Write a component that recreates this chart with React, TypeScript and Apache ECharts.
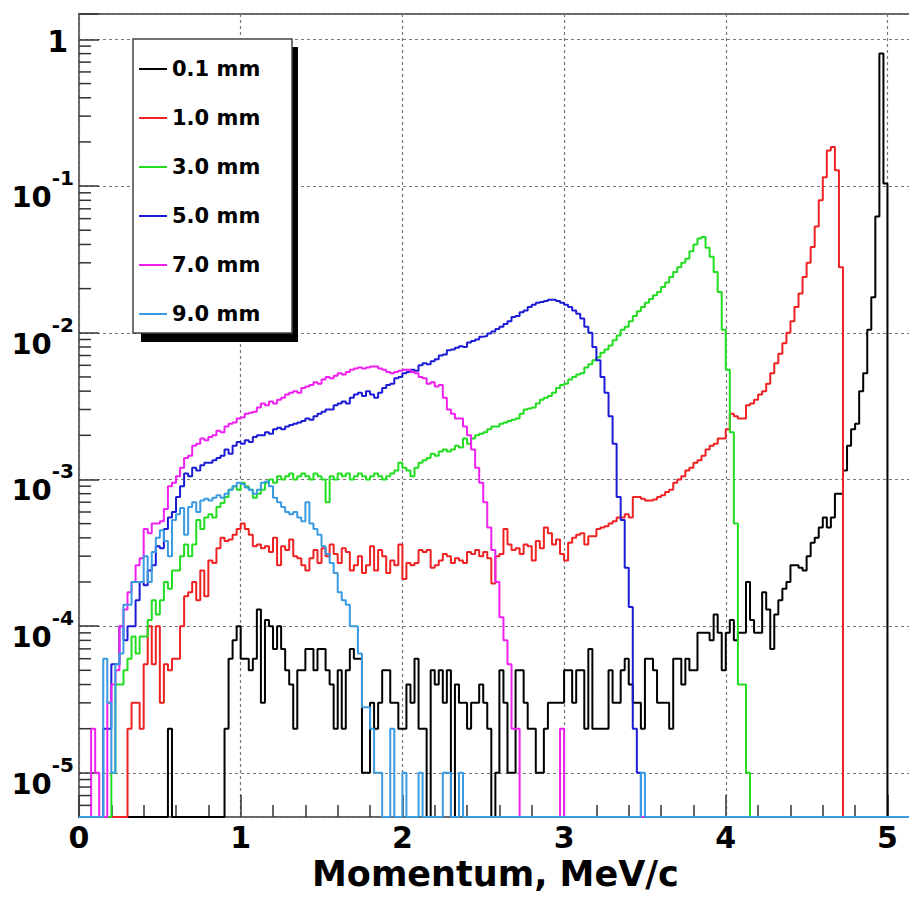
import React, { useEffect, useRef } from "react";
import * as echarts from "echarts";

// ---------- data (bin width 0.025 MeV/c) ----------
const BIN_WIDTH = 0.025;
const N_BINS = 208; // 0 .. 5.2
const X_MIN = 0;
const X_MAX = 5.2;
const Y_MIN = 5e-6;
const Y_MAX = 1.49;
const X_TICK_LABELS = [0, 1, 2, 3, 4, 5];
const Y_TICK_EXPONENTS = [-5, -4, -3, -2, -1, 0];
const Y_MINOR_MULTIPLIERS = [2, 3, 4, 5, 6, 7, 8, 9];

const SERIES_NAMES = ["0.1 mm", "1.0 mm", "3.0 mm", "5.0 mm", "7.0 mm", "9.0 mm"];
const SERIES_COLORS = ["#000000", "#ee2222", "#22dd22", "#1c1cd6", "#f020f0", "#3a9be2"];

const START_01 = 22;
const VALUES_01 = [
  2e-5, 0, 0, 0, 0, 0, 0, 0, 0, 0, 0, 0, 0, 0,
  2e-5, 6e-5, 8e-5, 1e-4, 6e-5, 6e-5, 5e-5, 6e-5, 1.3e-4, 3e-5, 1.1e-4, 1e-4, 7e-5, 1e-4, 7e-5, 5e-5,
  4e-5, 2e-5, 5e-5, 5e-5, 7e-5, 7e-5, 5e-5, 7e-5, 7e-5, 5e-5, 4e-5, 2e-5, 5e-5, 2e-5, 5e-5, 7e-5,
  6e-5, 6e-5, 1e-5, 1e-5, 3e-5, 2e-5, 3e-5, 5e-5, 5e-5, 3e-5, 3e-5, 2e-5,
  2e-5, 4e-5, 3e-5, 6e-5, 2e-5, 2e-5, 0, 5e-5, 4e-5, 5e-5, 3e-5, 5e-5, 0, 4e-5, 3e-5, 3e-5,
  2e-5, 3e-5, 3e-5, 4e-5, 3e-5, 2e-5, 0, 1e-5, 5e-5, 3e-5, 1e-5, 1e-5, 5e-5, 5e-5, 3e-5, 2e-5,
  2e-5, 1e-5, 1e-5, 2e-5, 3e-5, 3e-5, 3e-5, 3e-5, 5e-5, 5e-5, 3e-5, 5e-5, 5e-5, 2e-5, 7e-5, 2e-5,
  2e-5, 2e-5, 2e-5, 5e-5, 3e-5, 3e-5, 5e-5, 6e-5, 4e-5, 3e-5, 3e-5, 2e-5, 6e-5, 6e-5, 5e-5, 3e-5,
  3e-5, 3e-5, 2e-5, 6e-5, 6e-5, 4e-5, 6e-5, 5e-5, 5e-5, 9e-5, 9e-5, 9e-5, 8e-5, 1.2e-4, 9e-5, 5e-5,
  9e-5, 1.1e-4, 8e-5, 9e-5, 9e-5, 2e-4, 1.1e-4, 9e-5, 9e-5, 1.7e-4, 1.3e-4, 7e-5, 1.2e-4, 1.5e-4,
  1.8e-4, 2e-4, 2.6e-4, 2.6e-4, 2.5e-4, 2.4e-4, 3e-4, 3.7e-4, 4e-4, 4.7e-4, 5.5e-4, 4.7e-4, 5.5e-4,
  8e-4, 8e-4, 1.15e-3, 1.7e-3, 2.2e-3, 2.4e-3, 4e-3, 5.3e-3, 1.05e-2, 1.75e-2, 6.2e-2, 0.8, 0.104,
];

const START_10 = 12;
const VALUES_10 = [
  2e-5, 3e-5, 3e-5, 2e-5, 5.5e-5, 1e-4, 5.5e-5, 1e-4, 3e-5, 5.5e-5, 5e-5, 6e-5, 6e-5, 1e-4,
  1.6e-4, 1.7e-4, 2e-4, 1.5e-4, 2.4e-4, 1.6e-4, 2.8e-4, 2.7e-4, 3.4e-4, 4e-4, 3.8e-4, 3.9e-4,
  4.2e-4, 4.6e-4, 5e-4, 4.6e-4, 4.2e-4, 3.5e-4, 3.6e-4, 3.4e-4, 3.5e-4, 3.2e-4, 4e-4, 2.6e-4,
  3.5e-4, 3.3e-4, 3.9e-4, 3e-4, 2.9e-4, 2.6e-4, 2.4e-4, 2.9e-4, 3.3e-4, 2.7e-4, 3.4e-4, 3e-4,
  3.6e-4, 3.1e-4, 2.7e-4, 3.4e-4, 3.2e-4, 2.4e-4, 2.6e-4, 3e-4, 2.3e-4, 2.6e-4, 3.5e-4, 2.4e-4,
  3.3e-4, 3e-4, 2.3e-4, 2.8e-4, 2.6e-4, 3.6e-4, 2.1e-4, 2.7e-4, 2.6e-4, 2.7e-4, 3.3e-4, 3.2e-4,
  3.3e-4, 2.5e-4, 2.6e-4, 2.8e-4, 3.1e-4, 3e-4, 2.7e-4, 2.9e-4, 2.8e-4, 2.7e-4, 3.2e-4, 3.1e-4,
  3.3e-4, 3e-4, 3.2e-4, 2.9e-4, 1.95e-4, 3e-4, 3.1e-4, 4.6e-4, 3.6e-4, 3.3e-4, 3.4e-4, 3.1e-4,
  3.6e-4, 3.5e-4, 2.8e-4, 3.8e-4, 3.4e-4, 4.7e-4, 4.3e-4, 3.6e-4, 3.9e-4, 3.1e-4, 2.8e-4, 3.7e-4,
  4e-4, 4.2e-4, 4.3e-4, 3.6e-4, 4.1e-4, 4.1e-4, 4.6e-4, 4.7e-4, 4.8e-4, 5e-4, 5.2e-4, 5.5e-4,
  5.5e-4, 5.8e-4, 5.5e-4, 7.6e-4, 7.6e-4, 7.4e-4, 7.2e-4, 7.2e-4, 7.3e-4, 7.6e-4, 7.8e-4, 8.2e-4,
  8.5e-4, 9.5e-4, 1e-3, 1.05e-3, 1.15e-3, 1.2e-3, 1.3e-3, 1.35e-3, 1.45e-3, 1.6e-3, 1.7e-3,
  1.75e-3, 1.9e-3, 1.9e-3, 2.2e-3, 2.8e-3, 2.7e-3, 2.6e-3, 2.6e-3, 3.2e-3, 3.3e-3, 3.5e-3, 3.8e-3,
  4e-3, 4.5e-3, 5.3e-3, 6.2e-3, 7.2e-3, 8.5e-3, 1e-2, 1.2e-2, 1.5e-2, 1.85e-2, 2.4e-2, 3e-2,
  3.85e-2, 5.3e-2, 8e-2, 0.115, 0.175, 0.185, 0.128, 2.8e-2,
];

const START_30 = 8;
const VALUES_30 = [
  1e-5, 4e-5, 4e-5, 5e-5, 6e-5, 8.5e-5, 6.5e-5, 8.5e-5, 8.5e-5, 1.1e-4, 1.5e-4, 1.2e-4, 1.5e-4,
  2e-4, 1.8e-4, 2.4e-4, 2.4e-4, 3e-4, 3.6e-4, 3e-4, 3.6e-4, 5.3e-4, 4.6e-4, 5.5e-4, 5.8e-4,
  5.5e-4, 6.5e-4, 6.9e-4, 7.6e-4, 8.5e-4, 9e-4, 8.5e-4, 9.5e-4, 9e-4, 8.5e-4, 7.5e-4, 8e-4,
  8.5e-4, 9.5e-4, 1e-3, 9.5e-4, 1.05e-3, 1e-3, 1.05e-3, 1.1e-3, 1e-3, 1.05e-3, 1.1e-3, 1.05e-3,
  1e-3, 1.1e-3, 1.05e-3, 1e-3, 7e-4, 1.05e-3, 1e-3, 1.1e-3, 1.05e-3, 1.1e-3, 1e-3, 1.05e-3,
  1.1e-3, 1.05e-3, 1e-3, 1.05e-3, 1.1e-3, 1.05e-3, 1e-3, 1.05e-3, 1.1e-3, 1.15e-3, 1.3e-3, 1.2e-3,
  1.15e-3, 1.05e-3, 1.2e-3, 1.3e-3, 1.35e-3, 1.4e-3, 1.5e-3, 1.45e-3, 1.55e-3, 1.6e-3, 1.55e-3,
  1.6e-3, 1.7e-3, 1.65e-3, 1.9e-3, 1.75e-3, 1.9e-3, 2e-3, 2.05e-3, 2.1e-3, 2.2e-3, 2.3e-3, 2.3e-3,
  2.4e-3, 2.45e-3, 2.5e-3, 2.55e-3, 2.6e-3, 2.8e-3, 3e-3, 3.05e-3, 3.1e-3, 3.3e-3, 3.5e-3, 3.6e-3,
  3.7e-3, 3.9e-3, 4.2e-3, 4.4e-3, 4.5e-3, 4.8e-3, 5e-3, 5.2e-3, 5.3e-3, 5.8e-3, 6.1e-3, 6.5e-3,
  6.8e-3, 7.3e-3, 7.7e-3, 8.2e-3, 8.9e-3, 9.6e-3, 1.05e-2, 1.1e-2, 1.2e-2, 1.3e-2, 1.4e-2, 1.5e-2,
  1.6e-2, 1.7e-2, 1.8e-2, 1.9e-2, 2.05e-2, 2.2e-2, 2.4e-2, 2.6e-2, 2.8e-2, 3e-2, 3.2e-2, 3.6e-2,
  4e-2, 4.4e-2, 4.5e-2, 3.8e-2, 3.3e-2, 2.6e-2, 1.9e-2, 1.05e-2, 5.6e-3, 2.1e-3, 5e-4, 4e-5, 4e-5,
  1e-5,
];

const START_50 = 6;
const VALUES_50 = [
  2e-5, 2e-5, 5.5e-5, 5.5e-5, 1e-4, 8e-5, 1e-4, 1e-4, 1.5e-4, 2e-4, 1.9e-4, 2.4e-4, 2.6e-4,
  3.5e-4, 3.4e-4, 4.6e-4, 5.5e-4, 6e-4, 7.6e-4, 9e-4, 1.1e-3, 1.05e-3, 1.2e-3, 1.15e-3, 1.25e-3,
  1.3e-3, 1.3e-3, 1.35e-3, 1.4e-3, 1.45e-3, 1.6e-3, 1.5e-3, 1.7e-3, 1.8e-3, 1.75e-3, 1.85e-3,
  1.8e-3, 1.95e-3, 2e-3, 2e-3, 2.1e-3, 2.05e-3, 2.2e-3, 2.25e-3, 2.2e-3, 2.3e-3, 2.35e-3, 2.4e-3,
  2.45e-3, 2.5e-3, 2.6e-3, 2.55e-3, 2.7e-3, 2.8e-3, 2.9e-3, 3e-3, 3e-3, 3.2e-3, 3.3e-3, 3.4e-3,
  3.3e-3, 3.6e-3, 3.8e-3, 3.9e-3, 3.7e-3, 4e-3, 3.8e-3, 3.6e-3, 3.9e-3, 4.2e-3, 4.4e-3, 4.5e-3,
  4.9e-3, 5e-3, 5.3e-3, 5.4e-3, 5.6e-3, 5.5e-3, 6e-3, 6.2e-3, 6.1e-3, 6.4e-3, 6.6e-3, 7e-3, 7.1e-3,
  7.6e-3, 7.7e-3, 7.9e-3, 8.1e-3, 8e-3, 8.6e-3, 8.8e-3, 9e-3, 9.4e-3, 9.5e-3, 9.9e-3, 1.02e-2,
  1.06e-2, 1.1e-2, 1.15e-2, 1.2e-2, 1.28e-2, 1.3e-2, 1.38e-2, 1.42e-2, 1.5e-2, 1.55e-2, 1.6e-2,
  1.62e-2, 1.65e-2, 1.68e-2, 1.68e-2, 1.65e-2, 1.6e-2, 1.55e-2, 1.5e-2, 1.42e-2, 1.35e-2, 1.25e-2,
  1.1e-2, 1e-2, 8e-3, 6.5e-3, 5e-3, 3.9e-3, 2.7e-3, 1.75e-3, 7.6e-4, 5.3e-4, 2.5e-4, 1.35e-4,
  2e-5, 1e-5,
];

const START_70 = 3;
const VALUES_70 = [
  2e-5, 1e-5, 0, 0, 3e-5, 4e-5, 5e-5, 1e-4, 1.3e-4, 1.7e-4, 2e-4, 2.6e-4, 2.9e-4, 4.6e-4, 4.3e-4,
  5e-4, 5e-4, 5.2e-4, 6.3e-4, 9e-4, 9.5e-4, 1.05e-3, 1.2e-3, 1.4e-3, 1.45e-3, 1.7e-3, 1.75e-3,
  1.9e-3, 1.85e-3, 1.95e-3, 2e-3, 2.15e-3, 2.1e-3, 2.3e-3, 2.4e-3, 2.45e-3, 2.6e-3, 2.65e-3,
  2.8e-3, 2.85e-3, 2.9e-3, 3.1e-3, 3.3e-3, 3.2e-3, 3.4e-3, 3.3e-3, 3.5e-3, 3.6e-3, 3.8e-3, 3.9e-3,
  4e-3, 3.9e-3, 4.2e-3, 4.3e-3, 4.4e-3, 4.6e-3, 4.5e-3, 4.8e-3, 5e-3, 4.9e-3, 5.1e-3, 5.3e-3,
  5.2e-3, 5.4e-3, 5.6e-3, 5.7e-3, 5.8e-3, 5.7e-3, 5.8e-3, 5.9e-3, 5.9e-3, 5.7e-3, 5.6e-3, 5.4e-3,
  5.3e-3, 5.4e-3, 5.5e-3, 5.6e-3, 5.6e-3, 5.4e-3, 5.3e-3, 5e-3, 4.9e-3, 4.5e-3, 4.6e-3, 4.3e-3,
  4.4e-3, 3.6e-3, 3e-3, 2.8e-3, 2.6e-3, 2.6e-3, 2.3e-3, 2e-3, 1.6e-3, 1.2e-3, 9.5e-4, 7e-4,
  4.7e-4, 3.3e-4, 2e-4, 1.15e-4, 8e-5, 5.5e-5, 2e-5, 2e-5, 0, 0, 0, 0, 0, 0, 0, 0, 0, 0, 2e-5,
];

const START_90 = 6;
const VALUES_90 = [
  6e-5, 3e-5, 1e-5, 5.5e-5, 6.5e-5, 1.4e-4, 1.4e-4, 2e-4, 2e-4, 2e-4, 3e-4, 2e-4, 3.2e-4, 4e-4,
  4.5e-4, 3.8e-4, 3e-4, 5.3e-4, 5.8e-4, 6.4e-4, 4.2e-4, 6.5e-4, 7e-4, 6e-4, 7.2e-4, 7.4e-4,
  7.2e-4, 7.5e-4, 7.8e-4, 7.5e-4, 8e-4, 8.5e-4, 9e-4, 9.5e-4, 9.3e-4, 8.8e-4, 8.5e-4, 8e-4,
  8.5e-4, 9.5e-4, 9.7e-4, 9e-4, 7.5e-4, 7e-4, 6.5e-4, 6e-4, 5.8e-4, 6e-4, 5.5e-4, 5.2e-4, 7e-4,
  5e-4, 4.6e-4, 4.2e-4, 3.5e-4, 3.1e-4, 2.7e-4, 2.3e-4, 1.7e-4, 1.5e-4, 1.4e-4, 1e-4, 1e-4,
  6.5e-5, 2.8e-5, 2.8e-5, 2e-5, 1e-5, 1e-5, 0, 0, 2e-5, 0, 0, 1e-5, 0, 0, 0, 1e-5, 0, 0, 0, 0, 0,
  1e-5, 1e-5, 0, 0, 1e-5,
  0, 0, 0, 0, 0, 0, 0, 0, 0, 0, 0, 0, 0, 0, 0, 0, 0, 0, 0, 0, 0, 0,
  0, 0, 0, 0, 0, 0, 0, 0, 0, 0, 0, 0, 0, 0, 0, 0, 0, 0, 0, 0, 0, 0,
  1e-5,
];

const SERIES_STARTS = [START_01, START_10, START_30, START_50, START_70, START_90];
const SERIES_VALUES = [VALUES_01, VALUES_10, VALUES_30, VALUES_50, VALUES_70, VALUES_90];

// ---------- helpers ----------
function histogramSteps(start: number, values: number[]): [number, number][] {
  const pts: [number, number][] = [];
  for (let i = 0; i < N_BINS; i++) {
    const j = i - start;
    const v = j >= 0 && j < values.length ? values[j] : 0;
    // empty bins are drawn on the bottom edge of the frame, as ROOT does
    pts.push([Number((i * BIN_WIDTH).toFixed(4)), v > 0 ? v : Y_MIN]);
  }
  pts.push([Number((N_BINS * BIN_WIDTH).toFixed(4)), Y_MIN]);
  return pts;
}

const FONT = "DejaVu Sans";

export default function App() {
  const ref = useRef<HTMLDivElement>(null);

  useEffect(() => {
    if (!ref.current) return;
    const chart = echarts.init(ref.current, undefined, { renderer: "svg" });

    const minorTicks: [number, number][] = [];
    for (let e = -6; e <= 0; e++) {
      for (const m of Y_MINOR_MULTIPLIERS) {
        const v = m * Math.pow(10, e);
        if (v > Y_MIN && v < Y_MAX) minorTicks.push([0, v]);
      }
    }

    const lineSeries = SERIES_NAMES.map((name, k) => ({
      name,
      type: "line",
      step: "end",
      data: histogramSteps(SERIES_STARTS[k], SERIES_VALUES[k]),
      showSymbol: false,
      symbol: "none",
      clip: false,
      color: SERIES_COLORS[k],
      lineStyle: { color: SERIES_COLORS[k], width: 2 },
      z: 2,
    }));

    const option: any = {
      animation: false,
      backgroundColor: "#ffffff",
      grid: {
        left: 79,
        top: 14,
        width: 840.8,
        height: 803,
        show: true,
        borderColor: "#666666",
        borderWidth: 2,
        containLabel: false,
        outerBoundsMode: "none",
      },
      legend: {
        data: SERIES_NAMES,
        orient: "vertical",
        left: 139,
        top: 58.5,
        padding: 0,
        itemGap: 28,
        itemWidth: 28,
        itemHeight: 2,
        icon: "rect",
        selectedMode: false,
        z: 6,
        textStyle: {
          fontFamily: FONT,
          fontWeight: "bold",
          fontSize: 21,
          lineHeight: 21,
          color: "#000",
        },
      },
      graphic: [
        {
          type: "rect",
          z: 4,
          shape: { x: 141, y: 47, width: 157, height: 295 },
          style: { fill: "#000000" },
          silent: true,
        },
        {
          type: "rect",
          z: 5,
          shape: { x: 133, y: 39, width: 159, height: 294 },
          style: { fill: "#ffffff", stroke: "#444444", lineWidth: 1.5 },
          silent: true,
        },
      ],
      xAxis: {
        type: "value",
        min: X_MIN,
        max: X_MAX,
        interval: 1,
        name: "Momentum, MeV/c",
        nameLocation: "middle",
        nameGap: 33,
        nameTextStyle: {
          fontFamily: FONT,
          fontWeight: "bold",
          fontSize: 35,
          color: "#000",
          padding: [0, 8, 0, 0],
        },
        axisLine: { show: false },
        axisTick: { show: true, inside: true, length: 22, lineStyle: { color: "#333", width: 1.5 } },
        minorTick: { show: true, splitNumber: 5, length: 12, lineStyle: { color: "#333", width: 1.5 } },
        splitLine: { show: true, lineStyle: { color: "#777", width: 1.2, type: [3, 3] } },
        axisLabel: {
          margin: 5,
          fontFamily: FONT,
          fontWeight: "bold",
          fontSize: 30,
          color: "#000",
          formatter: (v: number) => (X_TICK_LABELS.includes(v) ? String(v) : ""),
        },
      },
      yAxis: {
        type: "log",
        logBase: 10,
        min: Y_MIN,
        max: Y_MAX,
        axisLine: { show: false },
        axisTick: { show: true, inside: true, length: 20, lineStyle: { color: "#333", width: 1.5 } },
        minorTick: { show: false },
        splitLine: { show: true, lineStyle: { color: "#777", width: 1.2, type: [3, 3] } },
        axisLabel: {
          margin: 5,
          color: "#000",
          formatter: (v: number) => {
            const e = Math.log10(v);
            const r = Math.round(e);
            if (Math.abs(e - r) > 1e-6 || !Y_TICK_EXPONENTS.includes(r)) return "";
            return r === 0 ? "{one|1}" : `{b|10}{s|${r}}`;
          },
          rich: {
            one: {
              fontFamily: FONT,
              fontWeight: "bold",
              fontSize: 30,
              lineHeight: 30,
              padding: [4, 6, 0, 0],
              color: "#000",
            },
            b: {
              fontFamily: FONT,
              fontWeight: "bold",
              fontSize: 29,
              lineHeight: 29,
              padding: [22, 0, 0, 0],
              color: "#000",
            },
            s: {
              fontFamily: FONT,
              fontWeight: "bold",
              fontSize: 20,
              lineHeight: 20,
              padding: [0, 0, 16, 0],
              color: "#000",
            },
          },
        },
      },
      series: [
        ...lineSeries,
        {
          name: "minor-ticks",
          type: "custom",
          silent: true,
          clip: false,
          z: 3,
          data: minorTicks,
          renderItem: (_params: any, api: any) => {
            const p = api.coord([0, api.value(1)]);
            return {
              type: "line",
              shape: { x1: p[0], y1: p[1], x2: p[0] + 12, y2: p[1] },
              style: { stroke: "#333", lineWidth: 1.5 },
            };
          },
        },
      ],
    };

    chart.setOption(option);
    return () => chart.dispose();
  }, []);

  return (
    <div
      ref={ref}
      style={{ position: "absolute", left: 0, top: 0, width: 909, height: 899, background: "#fff" }}
    />
  );
}
